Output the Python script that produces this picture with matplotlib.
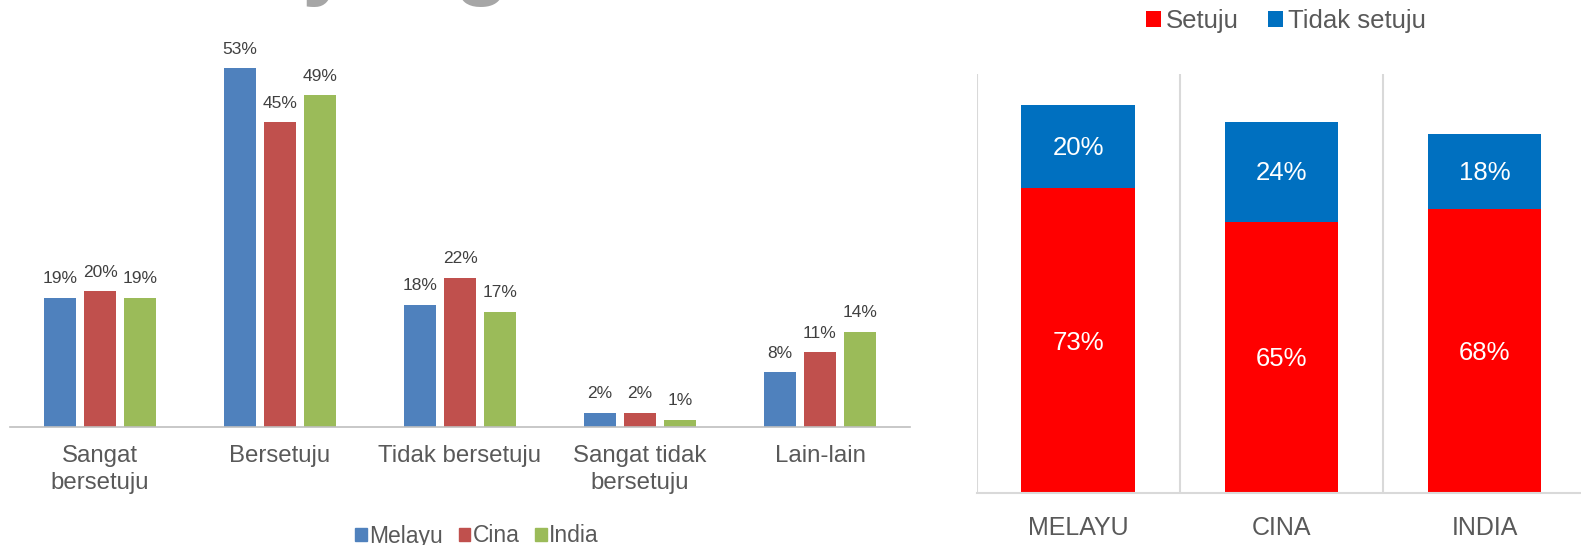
import numpy as np
import matplotlib.pyplot as plt
from matplotlib.patches import Patch

plt.rcParams['font.family'] = ['Liberation Sans', 'DejaVu Sans']

# left chart data
kategori = ["Sangat\nbersetuju", "Bersetuju", "Tidak bersetuju", "Sangat tidak\nbersetuju", "Lain-lain"]
kaum = ["Melayu", "Cina", "India"]
melayu = [19, 53, 18, 2, 8]
cina = [20, 45, 22, 2, 11]
india = [19, 49, 17, 1, 14]
warna_kaum = ["#4F81BD", "#C0504D", "#9BBB59"]

# right chart data
kaum_besar = ["MELAYU", "CINA", "INDIA"]
setuju = [73, 65, 68]
tidak_setuju = [20, 24, 18]

W, H = 1581, 545
fig = plt.figure(figsize=(W / 100, H / 100), dpi=100)

# title cut off at the top edge (only descenders visible)
fig.text(327 / W, 1 + 12 / H, "y", fontsize=66, fontweight="bold", color="#A6A6A6",
         ha="center", va="baseline")
fig.text(481 / W, 1 + 12 / H, "g", fontsize=66, fontweight="bold", color="#A6A6A6",
         ha="center", va="baseline")

# ---- left: grouped bars
ax1 = fig.add_axes([10 / W, 1 - 426.5 / H, 900 / W, 386.5 / H])
x = np.arange(len(kategori))
lebar = 0.174
langkah = 0.222
for i, (nama, nilai) in enumerate(zip(kaum, [melayu, cina, india])):
    pos = x + (i - 1) * langkah
    bars = ax1.bar(pos, nilai, lebar, color=warna_kaum[i], label=nama)
    for b, v in zip(bars, nilai):
        ax1.annotate(f"{v}%", (b.get_x() + b.get_width() / 2, v), xytext=(0, 10.5),
                     textcoords="offset points", ha="center", va="baseline",
                     fontsize=12.5, color="#404040")
ax1.set_xlim(-0.5, len(kategori) - 0.5)
ax1.set_ylim(0, 386.5 / 6.76)
ax1.set_xticks(x)
ax1.set_xticklabels(kategori, fontsize=17.3, color="#595959", linespacing=1.3)
ax1.tick_params(axis="x", length=0, pad=13)
ax1.set_yticks([])
for s in ["top", "right", "left"]:
    ax1.spines[s].set_visible(False)
ax1.spines["bottom"].set_color("#BFBFBF")
ax1.spines["bottom"].set_linewidth(1.2)

fig.legend(handles=[Patch(color=c, label=k) for c, k in zip(warna_kaum, kaum)],
           loc="center", bbox_to_anchor=(477 / W, 1 - 536 / H), ncol=3, frameon=False,
           fontsize=16.5, handlelength=0.5, handleheight=0.5, handletextpad=0.1,
           columnspacing=0.7, labelcolor="#595959", borderpad=0)

# ---- right: stacked bars
ax2 = fig.add_axes([976.6 / W, 1 - 493 / H, 609.6 / W, 419.4 / H])
x2 = np.arange(len(kaum_besar))
b1 = ax2.bar(x2, setuju, 0.56, color="#FF0000", label="Setuju")
b2 = ax2.bar(x2, tidak_setuju, 0.56, bottom=setuju, color="#0070C0", label="Tidak setuju")
for i in range(len(kaum_besar)):
    ax2.annotate(f"{setuju[i]}%", (x2[i], setuju[i] / 2), xytext=(0, -6.4),
                 textcoords="offset points", ha="center", va="baseline",
                 fontsize=18.5, color="white")
    ax2.annotate(f"{tidak_setuju[i]}%", (x2[i], setuju[i] + tidak_setuju[i] / 2),
                 xytext=(0, -6.4), textcoords="offset points", ha="center",
                 va="baseline", fontsize=18.5, color="white")
ax2.set_xlim(-0.5, len(kaum_besar) - 0.5)
ax2.set_ylim(0, 419.4 / 4.174)
for g in np.arange(-0.5, len(kaum_besar), 1.0):
    ax2.axvline(g, color="#D9D9D9", lw=1.5, zorder=0)
ax2.set_xticks(x2)
ax2.set_xticklabels(kaum_besar, fontsize=18, color="#595959")
ax2.tick_params(axis="x", length=0, pad=16.5)
ax2.set_yticks([])
for s in ["top", "right", "left"]:
    ax2.spines[s].set_visible(False)
ax2.spines["bottom"].set_color("#D9D9D9")
ax2.spines["bottom"].set_linewidth(1.5)

fig.legend(handles=[b1, b2], loc="center", bbox_to_anchor=(1286 / W, 1 - 21 / H), ncol=2,
           frameon=False, fontsize=18.5, handlelength=0.58, handleheight=0.58,
           handletextpad=0.2, columnspacing=1.13, labelcolor="#595959", borderpad=0)

fig.savefig("out.png", dpi=100)
